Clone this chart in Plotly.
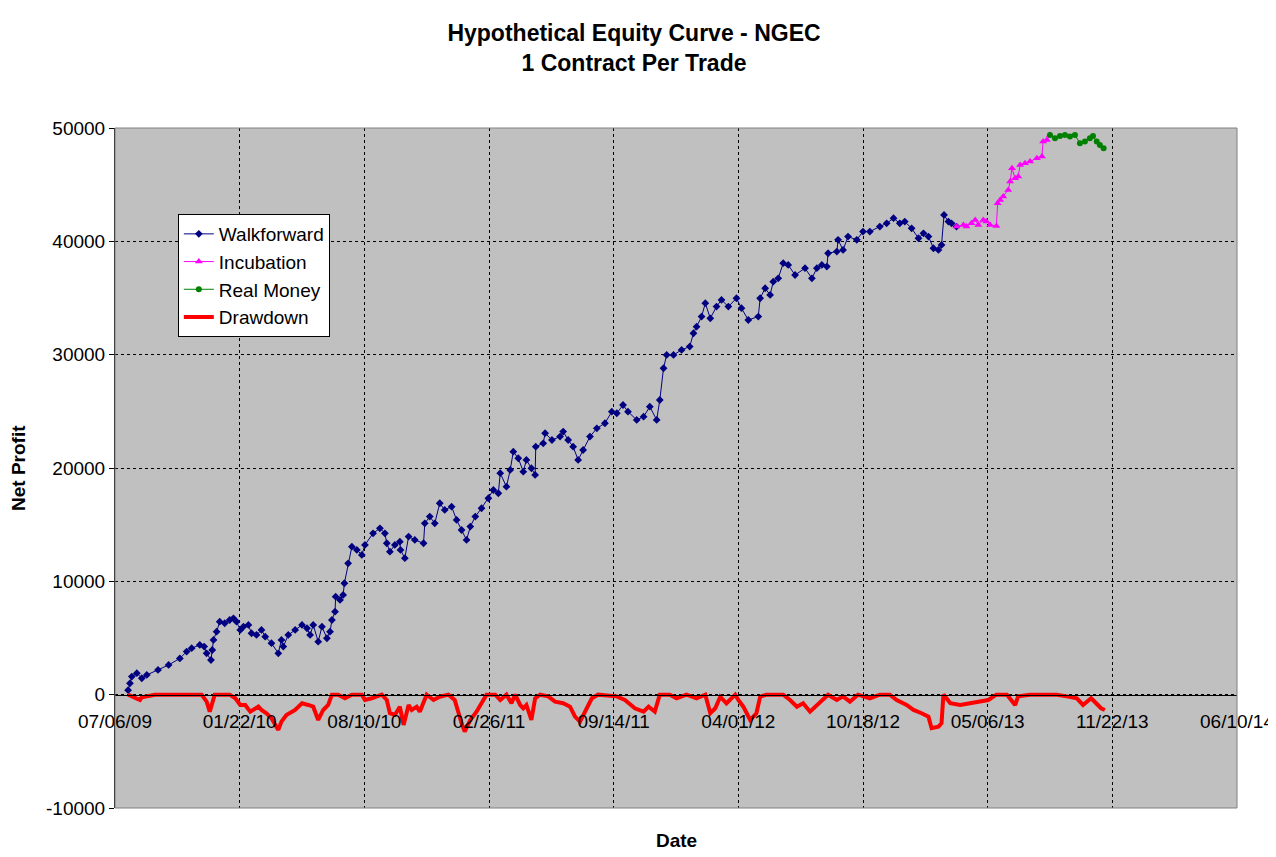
import pandas as pd
import plotly.graph_objects as go

START = pd.Timestamp("2009-07-06")

# days since 07/06/09 and net profit
wf_days = [21, 24, 27, 35, 43, 51, 69, 86, 104, 115, 123, 136, 143, 147, 154, 156, 158, 163, 168, 176,
           184, 190, 195, 201, 206, 214, 219, 227, 235, 241, 251, 262, 267, 270, 278, 289, 300, 308, 313, 318,
           326, 332, 340, 345, 348, 353, 354, 361, 366, 368, 374, 380, 388, 396, 401, 414, 425, 433, 436, 441,
           449, 457, 458, 465, 471, 481, 495, 497, 505, 513, 521, 529, 540, 548, 556, 564, 570, 578, 588, 599,
           607, 615, 618, 628, 634, 639, 647, 655, 660, 668, 674, 675, 687, 690, 701, 714, 719, 727, 735, 743,
           751, 762, 773, 786, 797, 805, 815, 823, 837, 848, 858, 869, 874, 880, 885, 896, 909, 922, 928, 933,
           941, 947, 955, 965, 973, 984, 997, 1005, 1016, 1032, 1035, 1043, 1051, 1056, 1064, 1072, 1080, 1091, 1107, 1118,
           1126, 1134, 1142, 1144, 1158, 1160, 1168, 1176, 1190, 1200, 1211, 1227, 1238, 1249, 1259, 1267, 1278, 1289, 1297, 1305,
           1313, 1321, 1326, 1330, 1337, 1342, 1350]
wf_profit = [400, 1000, 1600, 1900, 1450, 1740, 2180, 2620, 3200, 3800, 4100, 4390, 4240, 3650, 3060, 3940, 4830, 5560, 6440, 6300,
             6590, 6740, 6440, 5710, 6000, 6150, 5420, 5270, 5710, 5120, 4540, 3650, 4830, 4240, 5270, 5710, 6150, 5860, 5270, 6150,
             4680, 6000, 4980, 5560, 6590, 7320, 8650, 8360, 8800, 9830, 11590, 13060, 12770, 12330, 13210, 14240, 14680, 14240, 13360, 12620,
             13210, 13500, 12770, 12040, 13950, 13650, 13360, 15120, 15710, 15120, 16890, 16300, 16590, 15420, 14530, 13650, 14830, 15710, 16450, 17330,
             18060, 17770, 19540, 18350, 19830, 21440, 20860, 19680, 20710, 19980, 19390, 21880, 22180, 23070, 22470, 22770, 23210, 22470, 21880, 20710,
             21590, 22770, 23500, 23950, 24970, 24830, 25560, 24970, 24240, 24530, 25410, 24240, 26000, 28800, 29980, 29980, 30420, 30710, 31890, 32470,
             33360, 34540, 33210, 34240, 34830, 34240, 34980, 34100, 33060, 33360, 34980, 35860, 35270, 36440, 36740, 38070, 37920, 37030, 37630, 36740,
             37630, 37920, 37770, 38950, 39100, 40130, 39240, 40420, 40130, 40860, 40860, 41300, 41590, 42040, 41590, 41740, 41150, 40270, 40710, 40420,
             39390, 39240, 39680, 42330, 41740, 41590, 41300]

inc_days = [1350, 1361, 1366, 1374, 1380, 1385, 1393, 1398, 1404, 1414, 1416, 1420, 1425, 1433, 1436, 1439, 1444, 1449, 1452, 1460,
            1468, 1479, 1487, 1489, 1495, 1500]
inc_profit = [41300, 41450, 41300, 41590, 41890, 41450, 41890, 41740, 41450, 41360, 43360, 43650, 43950, 44540, 45270, 46450, 45570, 45710, 46740, 46890,
              47040, 47330, 47480, 48800, 48950, 49390]

real_days = [1500, 1508, 1516, 1524, 1532, 1540, 1548, 1556, 1564, 1569, 1575, 1580, 1586]
real_profit = [49390, 49100, 49300, 49390, 49240, 49390, 48660, 48800, 49100, 49300, 48800, 48510, 48220]

dd_days = [21, 40, 43, 64, 139, 147, 152, 158, 160, 184, 193, 201, 209, 217, 230, 235, 243, 251, 262, 267,
           275, 289, 300, 310, 318, 326, 334, 342, 348, 358, 369, 380, 396, 401, 412, 428, 436, 441, 449, 457,
           463, 471, 476, 484, 489, 500, 511, 521, 535, 545, 551, 556, 561, 570, 580, 588, 596, 610, 618, 628,
           636, 642, 650, 655, 660, 668, 674, 682, 695, 706, 719, 730, 738, 746, 754, 765, 775, 805, 818, 834,
           848, 856, 866, 874, 890, 901, 917, 933, 947, 955, 963, 971, 981, 995, 1000, 1008, 1019, 1029, 1035, 1045,
           1072, 1083, 1094, 1104, 1115, 1126, 1136, 1144, 1158, 1168, 1179, 1192, 1211, 1227, 1243, 1254, 1270, 1281, 1294, 1305,
           1310, 1321, 1326, 1329, 1334, 1340, 1356, 1372, 1388, 1401, 1414, 1431, 1444, 1449, 1468, 1511, 1527, 1543, 1553, 1566,
           1574, 1582, 1588]
dd_value = [0, -470, -230, 0, 0, -620, -1500, -320, 0, 0, -320, -910, -910, -1500, -1060, -1350, -1640, -2080, -3110, -2380,
            -1790, -1350, -760, -910, -1060, -2230, -1350, -910, 0, 0, -320, 0, 0, -470, -320, 0, -470, -1640, -1790, -1060,
            -2670, -910, -1350, -1060, -1500, 0, -470, -180, 0, -470, -1640, -2520, -3260, -2230, -1500, -760, 0, 0, -470, 0,
            -760, 0, -910, -1200, -910, -2230, -320, 0, -150, -620, -760, -1060, -1940, -2380, -1500, -320, 0, -150, -470, -1200,
            -1500, -1060, -1500, 0, 0, -320, 0, -320, 0, -1640, -1200, -180, -760, 0, -470, -1060, -2230, -1640, -180, 0,
            0, -470, -1060, -760, -1500, -910, -320, 0, -470, -150, -620, 0, -320, 0, 0, -470, -910, -1350, -1640, -1940,
            -2960, -2820, -2520, 0, -320, -760, -910, -760, -620, -470, 0, 0, -910, -150, 0, 0, -150, -320, -910, -320,
            -760, -1200, -1350]

tick_dates = ["2009-07-06", "2010-01-22", "2010-08-10", "2011-02-26", "2011-09-14",
              "2012-04-01", "2012-10-18", "2013-05-06", "2013-11-22", "2014-06-10"]
y_ticks = [-10000, 0, 10000, 20000, 30000, 40000, 50000]


def to_dates(days):
    return START + pd.to_timedelta(days, unit="D")


FONT = "Liberation Sans, Arial, sans-serif"

fig = go.Figure()

fig.add_trace(go.Scatter(x=to_dates(wf_days), y=wf_profit, name="Walkforward", mode="lines+markers",
                         line=dict(color="#000080", width=1),
                         marker=dict(symbol="diamond", size=6, color="#000080")))
fig.add_trace(go.Scatter(x=to_dates(inc_days), y=inc_profit, name="Incubation", mode="lines+markers",
                         line=dict(color="#FF00FF", width=1),
                         marker=dict(symbol="triangle-up", size=7, color="#FF00FF")))
fig.add_trace(go.Scatter(x=to_dates(real_days), y=real_profit, name="Real Money", mode="lines+markers",
                         line=dict(color="#008000", width=1),
                         marker=dict(symbol="circle", size=6, color="#008000")))
fig.add_trace(go.Scatter(x=to_dates(dd_days), y=dd_value, name="Drawdown", mode="lines",
                         line=dict(color="#FF0000", width=4)))

# the page body adds an 8px offset, so the figure is 8px smaller than the window
fig.update_layout(
    width=1268, height=849,
    margin=dict(l=107, r=39, t=120, b=49),
    paper_bgcolor="white",
    plot_bgcolor="#C0C0C0",
    font=dict(family=FONT, size=19, color="black"),
    title=dict(text="<b>Hypothetical Equity Curve - NGEC<br>1 Contract Per Trade</b>",
               x=0.4937, xanchor="center", y=0.9611, yanchor="middle",
               font=dict(family=FONT, size=23, color="black")),
    showlegend=True,
    legend=dict(x=0.056, y=0.8735, xanchor="left", yanchor="top",
                bgcolor="white", bordercolor="black", borderwidth=1,
                font=dict(family=FONT, size=19, color="black")),
    xaxis=dict(
        type="date",
        range=[tick_dates[0], tick_dates[-1]],
        tickvals=tick_dates,
        tickformat="%m/%d/%y",
        anchor="free", position=10000 / 60000,
        showline=True, linecolor="black", linewidth=1,
        ticks="", ticklabelstandoff=10,
        showgrid=True, gridcolor="black", gridwidth=1, griddash="3px,3px",
        zeroline=False, automargin=False,
    ),
    yaxis=dict(
        range=[-10000, 50000],
        tickvals=y_ticks,
        ticktext=[str(v) for v in y_ticks],
        showline=True, linecolor="black", linewidth=1,
        ticks="outside", ticklen=5, tickcolor="black",
        showgrid=True, gridcolor="black", gridwidth=1, griddash="3px,3px",
        zeroline=False, automargin=False,
    ),
    annotations=[
        dict(text="<b>Date</b>", xref="paper", yref="paper", x=0.5, y=-0.0485,
             xanchor="center", yanchor="middle", showarrow=False,
             font=dict(family=FONT, size=19)),
        dict(text="<b>Net Profit</b>", xref="paper", yref="paper", x=-0.0865, y=0.5,
             xanchor="center", yanchor="middle", textangle=-90, showarrow=False,
             font=dict(family=FONT, size=19)),
    ],
    shapes=[
        dict(type="rect", xref="paper", yref="paper", x0=0, x1=1, y0=0, y1=1,
             line=dict(color="#808080", width=1), layer="above"),
    ],
)

fig.write_html("out.html")
